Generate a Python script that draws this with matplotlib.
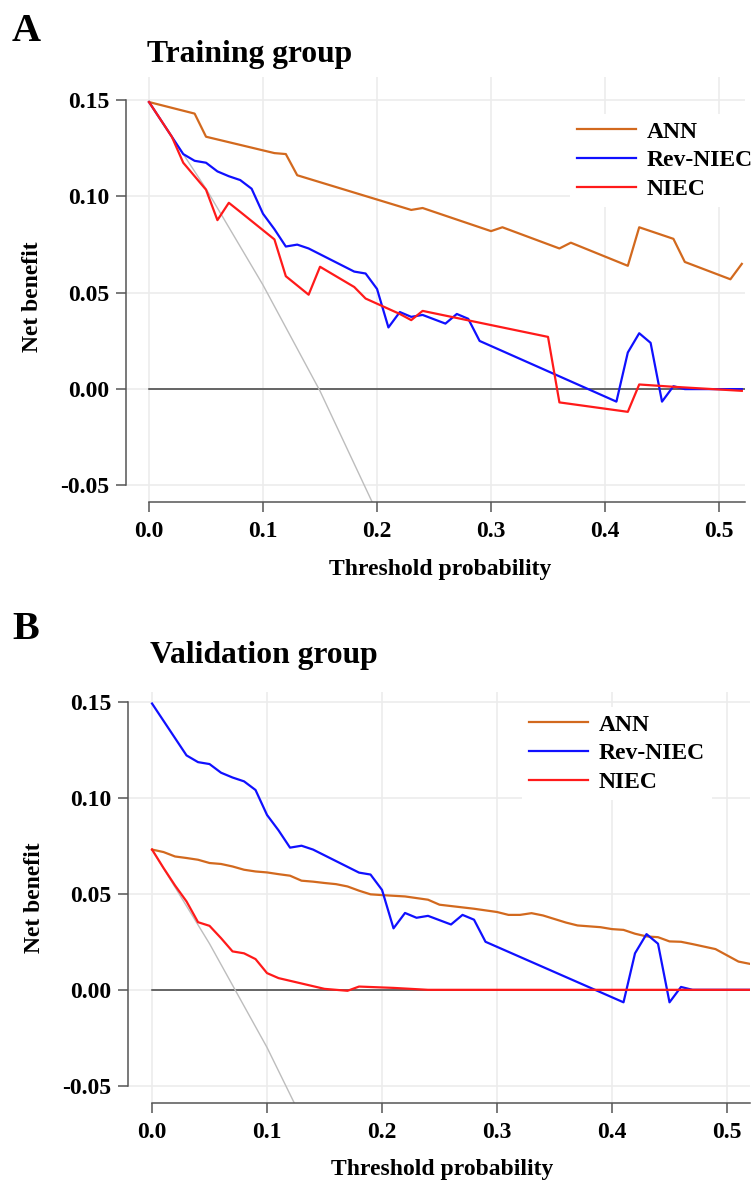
import matplotlib

matplotlib.use("Agg")
import matplotlib.pyplot as plt

# ---- data (threshold probability -> net benefit) ----
T_ALL_TRAIN = [0.00, 0.05, 0.10, 0.15, 0.20]
ALL_TRAIN = [0.149, 0.104, 0.054, -0.001, -0.064]

T_ANN_TRAIN = [0.00, 0.02, 0.04, 0.05, 0.11, 0.12, 0.13, 0.23, 0.24, 0.30, 0.31,
               0.36, 0.37, 0.42, 0.43, 0.46, 0.47, 0.51, 0.52]
ANN_TRAIN = [0.149, 0.146, 0.143, 0.131, 0.1225, 0.122, 0.111, 0.093, 0.094, 0.082, 0.084,
             0.073, 0.076, 0.064, 0.084, 0.078, 0.066, 0.057, 0.065]

T_REV_TRAIN = [0.00, 0.02, 0.03, 0.04, 0.05, 0.06, 0.07, 0.08, 0.09, 0.10, 0.11, 0.12,
               0.13, 0.14, 0.18, 0.19, 0.20, 0.21, 0.22, 0.23, 0.24, 0.26, 0.27, 0.28,
               0.29, 0.41, 0.42, 0.43, 0.44, 0.45, 0.46, 0.47, 0.52]
REV_TRAIN = [0.149, 0.131, 0.122, 0.1185, 0.1175, 0.113, 0.1105, 0.1085, 0.104, 0.091,
             0.083, 0.074, 0.075, 0.073, 0.061, 0.060, 0.052, 0.032, 0.040, 0.0375,
             0.0385, 0.034, 0.039, 0.0365, 0.025, -0.0065, 0.019, 0.029, 0.024, -0.0065,
             0.0015, 0.0, 0.0]

T_NIEC_TRAIN = [0.00, 0.02, 0.03, 0.05, 0.06, 0.07, 0.08, 0.11, 0.12, 0.14, 0.15, 0.18,
                0.19, 0.22, 0.23, 0.24, 0.35, 0.36, 0.42, 0.43, 0.46, 0.52]
NIEC_TRAIN = [0.149, 0.131, 0.1175, 0.1035, 0.0877, 0.0967, 0.092, 0.0777, 0.0586, 0.049,
              0.0635, 0.053, 0.047, 0.039, 0.0358, 0.0406, 0.0271, -0.0069, -0.0118,
              0.0024, 0.0012, -0.0009]

T_ALL_VALID = [0.00, 0.05, 0.10, 0.15]
ALL_VALID = [0.073, 0.024, -0.030, -0.091]

T_ANN_VALID = [0.00, 0.01, 0.02, 0.03, 0.04, 0.05, 0.06, 0.07, 0.08, 0.09, 0.10, 0.11,
               0.12, 0.13, 0.14, 0.15, 0.16, 0.17, 0.18, 0.19, 0.20, 0.22, 0.24, 0.25,
               0.28, 0.30, 0.31, 0.32, 0.33, 0.34, 0.36, 0.37, 0.39, 0.40, 0.41, 0.42,
               0.43, 0.44, 0.45, 0.46, 0.47, 0.49, 0.51, 0.52]
ANN_VALID = [0.073, 0.0717, 0.0694, 0.0686, 0.0677, 0.066, 0.0655, 0.0642, 0.0625, 0.0616,
             0.0611, 0.0602, 0.0594, 0.0568, 0.0563, 0.0556, 0.055, 0.0538, 0.0516, 0.0497,
             0.0493, 0.0486, 0.0469, 0.0443, 0.0422, 0.0405, 0.039, 0.039, 0.0399, 0.0387,
             0.035, 0.0335, 0.0326, 0.0316, 0.0312, 0.0292, 0.0278, 0.0274, 0.0252, 0.0250,
             0.0238, 0.0212, 0.0147, 0.0135]

T_REV_VALID = list(T_REV_TRAIN)
REV_VALID = list(REV_TRAIN)

T_NIEC_VALID = [0.00, 0.01, 0.02, 0.03, 0.04, 0.05, 0.06, 0.07, 0.08, 0.09, 0.10, 0.11,
                0.15, 0.17, 0.18, 0.21, 0.24, 0.52]
NIEC_VALID = [0.073, 0.0634, 0.0543, 0.046, 0.0352, 0.0333, 0.0269, 0.020, 0.019, 0.016,
              0.0087, 0.0061, 0.0005, -0.0005, 0.0017, 0.001, 0.0, 0.0]

X_TICKS = [0.0, 0.1, 0.2, 0.3, 0.4, 0.5]
Y_TICKS = [-0.05, 0.0, 0.05, 0.10, 0.15]
LABELS = ["ANN", "Rev-NIEC", "NIEC"]

ORANGE = "#D2691E"
BLUE = "#1010FF"
RED = "#FF1A1A"
W, H = 755, 1182
FONT = "Liberation Serif"

plt.rcParams["font.family"] = FONT
plt.rcParams["font.weight"] = "bold"


def fx(px):
    return px / W


def fy(py):
    return 1 - py / H


def panel(fig, box, xlim, ylim, data, legend_anchor):
    left, top, right, bottom = box
    ax = fig.add_axes([fx(left), fy(bottom), (right - left) / W, (bottom - top) / H])
    ax.set_xlim(*xlim)
    ax.set_ylim(*ylim)
    ax.set_xticks(X_TICKS)
    ax.set_yticks(Y_TICKS)
    ax.set_xticklabels([f"{v:.1f}" for v in X_TICKS])
    ax.set_yticklabels([f"{v:.2f}" for v in Y_TICKS])
    ax.grid(True, color="#ececec", lw=1.2)
    ax.set_axisbelow(True)
    for s in ("top", "right"):
        ax.spines[s].set_visible(False)
    for s in ("left", "bottom"):
        ax.spines[s].set_color("#555555")
        ax.spines[s].set_linewidth(1.1)
    ax.spines["left"].set_bounds(-0.05, 0.15)
    ax.spines["bottom"].set_bounds(0.0, xlim[1])
    ax.tick_params(length=7, width=1.1, color="#555555", labelsize=17)
    ax.tick_params(axis="x", pad=6.5)
    ax.tick_params(axis="y", pad=5)
    for lab in ax.get_xticklabels() + ax.get_yticklabels():
        lab.set_fontweight("bold")

    (t_all, v_all), (t_ann, v_ann), (t_rev, v_rev), (t_niec, v_niec) = data
    ax.plot([0.0, xlim[1]], [0.0, 0.0], color="#404040", lw=1.1)
    ax.plot(t_all, v_all, color="#bdbdbd", lw=1.0)
    l1, = ax.plot(t_ann, v_ann, color=ORANGE, lw=1.6)
    l2, = ax.plot(t_rev, v_rev, color=BLUE, lw=1.6)
    l3, = ax.plot(t_niec, v_niec, color=RED, lw=1.6)
    leg = ax.legend([l1, l2, l3], LABELS, loc="upper left",
                    bbox_to_anchor=(fx(legend_anchor[0]), fy(legend_anchor[1])),
                    bbox_transform=fig.transFigure, borderaxespad=0, borderpad=0.3,
                    handlelength=2.5, handletextpad=0.45, labelspacing=0.31,
                    frameon=True, fancybox=False, framealpha=1.0,
                    prop={"family": FONT, "weight": "bold", "size": 17})
    leg.get_frame().set_edgecolor("white")
    leg.get_frame().set_linewidth(0)
    return ax


fig = plt.figure(figsize=(W / 100, H / 100), dpi=100)

panel(fig, (126, 77, 745, 502), (-0.0202, 0.5228), (-0.0586, 0.162),
      [(T_ALL_TRAIN, ALL_TRAIN), (T_ANN_TRAIN, ANN_TRAIN),
       (T_REV_TRAIN, REV_TRAIN), (T_NIEC_TRAIN, NIEC_TRAIN)], (570, 114))
panel(fig, (128, 692, 750, 1103), (-0.0209, 0.52), (-0.0589, 0.155),
      [(T_ALL_VALID, ALL_VALID), (T_ANN_VALID, ANN_VALID),
       (T_REV_VALID, REV_VALID), (T_NIEC_VALID, NIEC_VALID)], (522, 707))

txt = dict(fontfamily=FONT, fontweight="bold")
fig.text(fx(12), fy(41), "A", fontsize=29, ha="left", va="baseline", **txt)
fig.text(fx(147), fy(62), "Training group", fontsize=22.8, ha="left", va="baseline", **txt)
fig.text(fx(32), fy(297), "Net benefit", fontsize=17, rotation=90, ha="center", va="center", **txt)
fig.text(fx(440), fy(575), "Threshold probability", fontsize=17, ha="center", va="baseline", **txt)

fig.text(fx(12), fy(639), "B", fontsize=29, ha="left", va="baseline", **txt)
fig.text(fx(150), fy(663), "Validation group", fontsize=22.8, ha="left", va="baseline", **txt)
fig.text(fx(35), fy(898), "Net benefit", fontsize=17, rotation=90, ha="center", va="center", **txt)
fig.text(fx(442), fy(1175), "Threshold probability", fontsize=17, ha="center", va="baseline", **txt)

fig.savefig("out.png", dpi=100)
